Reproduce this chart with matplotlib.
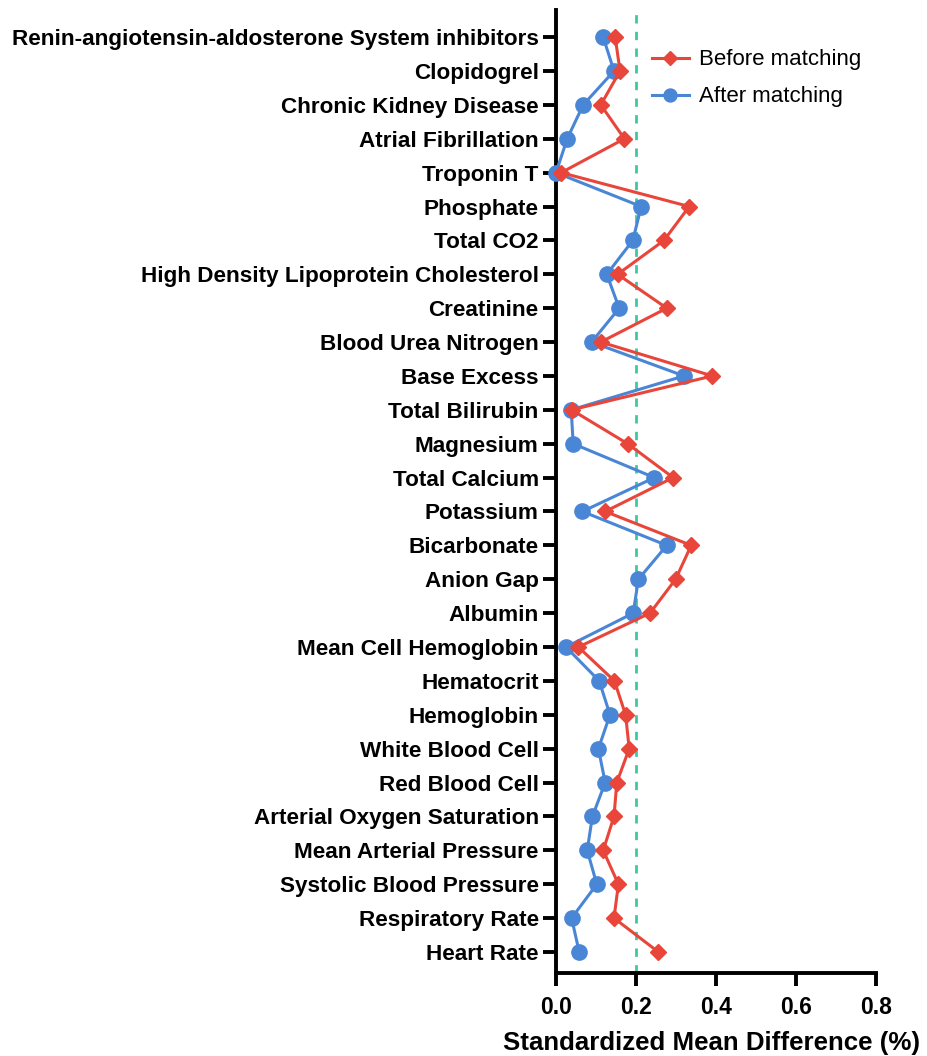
import matplotlib
matplotlib.use("Agg")
import matplotlib.pyplot as plt

categories = [
    "Renin-angiotensin-aldosterone System inhibitors", "Clopidogrel", "Chronic Kidney Disease",
    "Atrial Fibrillation", "Troponin T", "Phosphate", "Total CO2",
    "High Density Lipoprotein Cholesterol", "Creatinine", "Blood Urea Nitrogen", "Base Excess",
    "Total Bilirubin", "Magnesium", "Total Calcium", "Potassium", "Bicarbonate", "Anion Gap",
    "Albumin", "Mean Cell Hemoglobin", "Hematocrit", "Hemoglobin", "White Blood Cell",
    "Red Blood Cell", "Arterial Oxygen Saturation", "Mean Arterial Pressure",
    "Systolic Blood Pressure", "Respiratory Rate", "Heart Rate",
]
before = [0.148, 0.160, 0.112, 0.171, 0.013, 0.333, 0.270, 0.154, 0.277, 0.112, 0.391,
          0.039, 0.179, 0.293, 0.123, 0.338, 0.299, 0.235, 0.056, 0.146, 0.174, 0.183,
          0.152, 0.145, 0.118, 0.156, 0.145, 0.256]
after = [0.118, 0.145, 0.068, 0.028, 0.000, 0.213, 0.192, 0.127, 0.158, 0.089, 0.320,
         0.038, 0.043, 0.246, 0.066, 0.277, 0.206, 0.193, 0.025, 0.108, 0.135, 0.106,
         0.123, 0.091, 0.078, 0.102, 0.039, 0.058]
x_ticks = [0.0, 0.2, 0.4, 0.6, 0.8]
threshold = 0.2

plt.rcParams['font.family'] = ['Liberation Sans', 'DejaVu Sans']

fig = plt.figure(figsize=(9.28, 10.56), dpi=100)
ax = fig.add_axes([556/928, 1-973/1056, 320/928, 963/1056])

n = len(categories)
ypos = list(range(n))

red = '#E8463A'
blue = '#4A86D6'

ax.plot(after, ypos, color=blue, lw=2.2, marker='o', ms=11, zorder=3,
        label='After matching', clip_on=False)
ax.plot(before, ypos, color=red, lw=2.2, marker='D', ms=8, zorder=4,
        label='Before matching', clip_on=False)
ax.axvline(threshold, color='#3CC9A2', lw=2, ls=(0, (3, 3)), zorder=2)

ax.set_xlim(0, 0.8)
ax.set_ylim(n - 1 + 0.62, -0.8)
ax.set_xticks(x_ticks)
ax.set_xticklabels([f"{t:.1f}" for t in x_ticks])
ax.set_yticks(ypos)
ax.set_yticklabels(categories)

for s in ['top', 'right']:
    ax.spines[s].set_visible(False)
for s in ['left', 'bottom']:
    ax.spines[s].set_linewidth(2.8)

ax.tick_params(axis='y', width=2.8, length=9.5, direction='out', pad=3)
ax.tick_params(axis='x', width=2.8, length=9.5, direction='out', pad=7)
for lab in ax.get_yticklabels():
    lab.set_fontweight('bold')
    lab.set_fontsize(16.2)
for lab in ax.get_xticklabels():
    lab.set_fontweight('bold')
    lab.set_fontsize(16.5)

ax.set_xlabel("Standardized Mean Difference (%)", fontsize=18.6, fontweight='bold', labelpad=8)
ax.xaxis.set_label_coords(0.486, -0.060)

handles, labels = ax.get_legend_handles_labels()
ax.legend(handles[::-1], labels[::-1], loc='upper left', frameon=False, fontsize=16,
          bbox_to_anchor=(0.30, 0.959), borderaxespad=0, borderpad=0,
          handlelength=1.65, markerscale=0.85, labelspacing=0.72, handletextpad=0.45)

fig.savefig("out.png", dpi=100)
